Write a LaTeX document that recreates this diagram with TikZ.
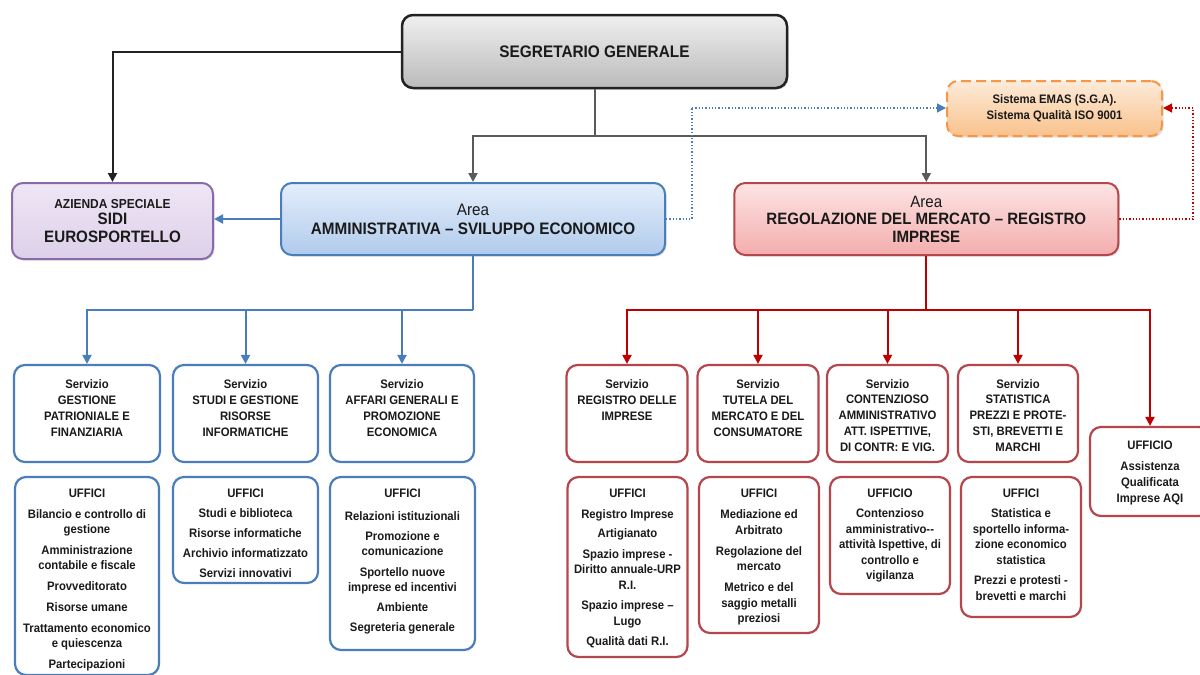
\documentclass[tikz,border=0pt]{standalone}
\usepackage{fontspec}
\setmainfont[FakeStretch=0.92]{Liberation Sans}
\usetikzlibrary{arrows.meta,shadows}
\newcommand\fsz[2]{\fontsize{#1}{#2}\selectfont}
\definecolor{txtc}{HTML}{1A1A1A}
\definecolor{bluec}{HTML}{4A7EBB}
\definecolor{redc}{HTML}{B5464B}
\definecolor{redl}{HTML}{C00000}
\definecolor{segd}{HTML}{222222}
\definecolor{grayl}{HTML}{5A5A5A}
\definecolor{purd}{HTML}{8A6AA8}
\definecolor{orad}{HTML}{F79646}
\definecolor{purt}{HTML}{EEE6F5}
\definecolor{purb}{HTML}{DDD0EA}
\definecolor{blut}{HTML}{E4EEFB}
\definecolor{blub}{HTML}{B0CBEC}
\definecolor{redt}{HTML}{FDE4E4}
\definecolor{redb}{HTML}{F3ADAD}
\definecolor{orat}{HTML}{FDEBD9}
\definecolor{orab}{HTML}{F9C28C}
\begin{document}
\begin{tikzpicture}[x=1pt,y=-1pt,
  rbox/.style={rounded corners=11pt, line width=2.2pt, inner sep=0pt, align=center, text=txtc},
  bsvc/.style={rbox, draw=bluec, fill=white},
  rsvc/.style={rbox, draw=redc, fill=white},
  shd/.style={drop shadow={shadow xshift=1.5pt, shadow yshift=-1.5pt, opacity=0.25}},
  itxt/.style={inner sep=0pt, align=center, anchor=north, font=\fsz{12.3}{15}\bfseries, text=txtc},
  ritxt/.style={itxt, font=\fsz{12.3}{15.5}\bfseries},
  stxt/.style={itxt, font=\fsz{12.3}{16}\bfseries},
  arr/.style={-{Triangle[length=9pt,width=9pt]}},
  dkline/.style={draw=segd, line width=2pt},
  gline/.style={draw=grayl, line width=2pt},
  bline/.style={draw=bluec, line width=2pt},
  rline/.style={draw=redl, line width=2pt},
  bdot/.style={draw=bluec, line width=1.3pt, dotted},
  rdot/.style={draw=redl, line width=1.3pt, dotted},
]
\useasboundingbox (0,0) rectangle (1200,675);
\fill[white] (0,0) rectangle (1200,675);

% top level
\node[rbox, shd, draw=segd, line width=2.5pt, top color=black!6, bottom color=black!27,
      minimum width=385pt, minimum height=73pt, font=\fsz{16.7}{19}\bfseries]
      (seg) at (594.5,51.5) {SEGRETARIO GENERALE};
\node[rbox, shd, draw=purd, line width=2pt, top color=purt, bottom color=purb,
      minimum width=201pt, minimum height=76pt, font=\fsz{16.5}{18}\bfseries]
      (az) at (112.5,221) {{\fsz{13}{14}AZIENDA SPECIALE}\\[-2.5pt]SIDI\\EUROSPORTELLO};
\node[rbox, shd, draw=bluec, line width=2pt, top color=blut, bottom color=blub,
      minimum width=384pt, minimum height=72pt, font=\fsz{16.6}{19}\bfseries]
      (amm) at (473,219) {\mdseries Area\\AMMINISTRATIVA -- SVILUPPO ECONOMICO};
\node[rbox, shd, draw=redc, line width=2pt, top color=redt, bottom color=redb,
      minimum width=384pt, minimum height=72pt, font=\fsz{16.4}{17.5}\bfseries]
      (reg) at (926.3,219) {\mdseries Area\\REGOLAZIONE DEL MERCATO -- REGISTRO\\IMPRESE};
\node[rbox, shd, draw=orad, line width=2pt, dash pattern=on 10pt off 5pt,
      top color=orat, bottom color=orab,
      minimum width=215pt, minimum height=55pt, font=\fsz{12.3}{16}\bfseries]
      (emas) at (1054.5,108.5) {Sistema EMAS (S.G.A).\\Sistema Qualità ISO 9001};

% blue services
\node[bsvc, minimum width=146pt, minimum height=97pt] (s1) at (87,413.5) {};
\node[bsvc, minimum width=145pt, minimum height=97pt] (s2) at (245.5,413.5) {};
\node[bsvc, minimum width=144pt, minimum height=97pt] (s3) at (402,413.5) {};
\node[stxt] (s1t) at ([yshift=-15pt]s1.north) {Servizio\\GESTIONE\\PATRIONIALE E\\FINANZIARIA};
\node[stxt] (s2t) at ([yshift=-15pt]s2.north) {Servizio\\STUDI E GESTIONE\\RISORSE\\INFORMATICHE};
\node[stxt] (s3t) at ([yshift=-15pt]s3.north) {Servizio\\AFFARI GENERALI E\\PROMOZIONE\\ECONOMICA};

% blue uffici
\node[bsvc, minimum width=144pt, minimum height=198pt] (u1) at (87,576) {};
\node[bsvc, minimum width=145pt, minimum height=106pt] (u2) at (245.5,530) {};
\node[bsvc, minimum width=145pt, minimum height=173pt] (u3) at (402.5,563.5) {};
\node[itxt] (u1t) at ([yshift=-12.5pt]u1.north) {UFFICI\\[6pt]Bilancio e controllo di\\gestione\\[6pt]Amministrazione\\contabile e fiscale\\[6pt]Provveditorato\\[6pt]Risorse umane\\[6pt]Trattamento economico\\e quiescenza\\[6pt]Partecipazioni};
\node[itxt] (u2t) at ([yshift=-12.5pt]u2.north) {UFFICI\\[5pt]Studi e biblioteca\\[5pt]Risorse informatiche\\[5pt]Archivio informatizzato\\[5pt]Servizi innovativi};
\node[itxt] (u3t) at ([yshift=-12.5pt]u3.north) {UFFICI\\[8pt]Relazioni istituzionali\\[5pt]Promozione e\\comunicazione\\[6pt]Sportello nuove\\imprese ed incentivi\\[5pt]Ambiente\\[5pt]Segreteria generale};

% red services
\node[rsvc, minimum width=121pt, minimum height=97pt] (r1) at (627,413.5) {};
\node[rsvc, minimum width=121pt, minimum height=97pt] (r2) at (758,413.5) {};
\node[rsvc, minimum width=121pt, minimum height=97pt] (r3) at (887.5,413.5) {};
\node[rsvc, minimum width=120pt, minimum height=97pt] (r4) at (1018,413.5) {};
\node[rsvc, minimum width=120pt, minimum height=89pt] (aqi) at (1150,471.5) {};
\node[stxt] (r1t) at ([yshift=-15pt]r1.north) {Servizio\\REGISTRO DELLE\\IMPRESE};
\node[stxt] (r2t) at ([yshift=-15pt]r2.north) {Servizio\\TUTELA DEL\\MERCATO E DEL\\CONSUMATORE};
\node[stxt, font=\fsz{12.3}{15.8}\bfseries] (r3t) at ([yshift=-15pt]r3.north) {Servizio\\CONTENZIOSO\\AMMINISTRATIVO\\ATT. ISPETTIVE,\\DI CONTR: E VIG.};
\node[stxt, font=\fsz{12.3}{15.8}\bfseries] (r4t) at ([yshift=-15pt]r4.north) {Servizio\\STATISTICA\\PREZZI E PROTE-\\STI, BREVETTI E\\MARCHI};
\node[stxt] (aqit) at ([yshift=-15pt]aqi.north) {UFFICIO\\[5pt]Assistenza\\Qualificata\\Imprese AQI};

% red uffici
\node[rsvc, minimum width=120pt, minimum height=180pt] (ru1) at (627.5,567) {};
\node[rsvc, minimum width=120pt, minimum height=156pt] (ru2) at (759,555) {};
\node[rsvc, minimum width=120pt, minimum height=117pt] (ru3) at (890,535.5) {};
\node[rsvc, minimum width=120pt, minimum height=140pt] (ru4) at (1021,547) {};
\node[ritxt] (ru1t) at ([yshift=-12.5pt]ru1.north) {UFFICI\\[5.5pt]Registro Imprese\\[4pt]Artigianato\\[5pt]Spazio imprese -\\Diritto annuale-URP\\R.I.\\[5pt]Spazio imprese --\\Lugo\\[4.5pt]Qualità dati R.I.};
\node[ritxt] (ru2t) at ([yshift=-12.5pt]ru2.north) {UFFICI\\[6pt]Mediazione ed\\Arbitrato\\[5.5pt]Regolazione del\\mercato\\[5.5pt]Metrico e del\\saggio metalli\\preziosi};
\node[ritxt] (ru3t) at ([yshift=-12.5pt]ru3.north) {UFFICIO\\[5pt]Contenzioso\\amministrativo-{}-\\attività Ispettive, di\\controllo e\\vigilanza};
\node[ritxt] (ru4t) at ([yshift=-12.5pt]ru4.north) {UFFICI\\[5pt]Statistica e\\sportello informa-\\zione economico\\statistica\\[5pt]Prezzi e protesti -\\brevetti e marchi};

% connectors top
\draw[dkline, arr] (seg.west) -| (az.north);
\coordinate (j1) at (594.5,136);
\draw[gline] (seg.south) -- (j1);
\draw[gline, arr] (j1) -| (amm.north);
\draw[gline, arr] (j1) -| (reg.north);
\draw[bline, arr] (amm.west) -- (amm.west -| az.east);
\coordinate (d1) at (692,108);
\coordinate (d2) at (1193,108);
\draw[bdot] (amm.east) -| (d1);
\draw[bdot, arr] (d1) -- (emas.west |- d1);
\draw[rdot] (reg.east) -| (d2);
\draw[rdot, arr] (d2) -- (emas.east |- d2);

% blue tree
\coordinate (bj) at (473,310);
\draw[bline] (amm.south) -- (bj);
\draw[bline, arr] (bj) -| (s1.north);
\draw[bline, arr] (bj) -| (s2.north);
\draw[bline, arr] (bj) -| (s3.north);

% red tree
\coordinate (rj) at (926.3,310);
\draw[rline] (reg.south) -- (rj);
\draw[rline, arr] (rj) -| (r1.north);
\draw[rline, arr] (rj) -| (r2.north);
\draw[rline, arr] (rj) -| (r3.north);
\draw[rline, arr] (rj) -| (r4.north);
\draw[rline, arr] (rj) -| (aqi.north);
\end{tikzpicture}
\end{document}
